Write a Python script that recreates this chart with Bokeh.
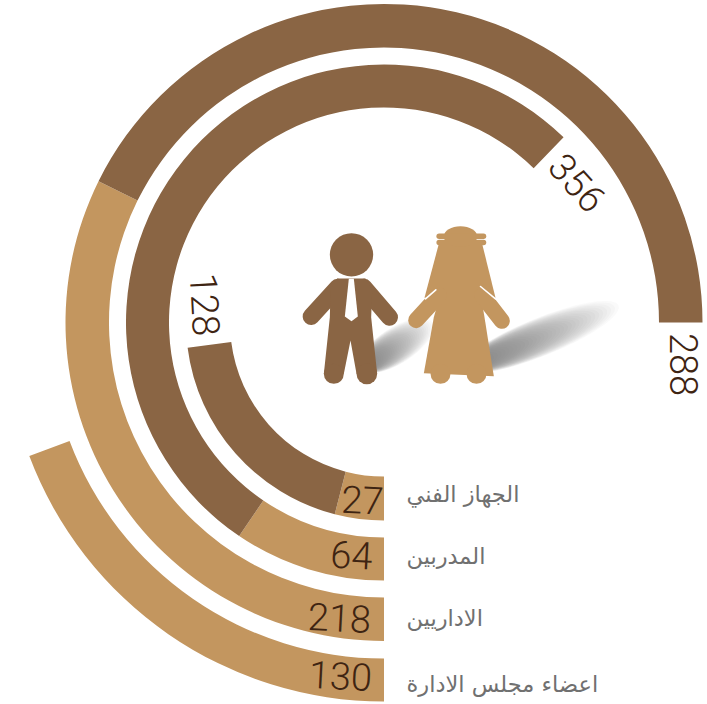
from math import radians, atan2, hypot
from bokeh.plotting import figure
from bokeh.models import Range1d
from bokeh.core.properties import value
from bokeh.embed import file_html
from bokeh.resources import INLINE

categories = ["الجهاز الفني", "المدربين", "الاداريين", "اعضاء  مجلس الادارة"]
tan_values = [27, 64, 218, 130]
brown_values = [128, 356, 288, 0]

W, H = 707, 704
TAN, BROWN, DARK, GREY = "#C3965F", "#8A6544", "#3E2412", "#707070"
DEG_PER_UNIT = 270 / 506
CX, CY = 383.5, 322
RINGS = [(154, 198), (215, 258), (275, 318.5), (336, 379)]

def Y(v):
    return H - v

p = figure(width=W, height=H, output_backend="svg", toolbar_location=None,
           x_range=Range1d(0, W), y_range=Range1d(0, H),
           min_border=0, outline_line_color=None, background_fill_color=None,
           margin=(0, 0, 0, 0))
p.axis.visible = False
p.grid.visible = False

def ang(units):
    return radians(-90 - units * DEG_PER_UNIT)

# shadows
def shadow(x0, y0, x1, y1, thick, n=40, alpha=0.03):
    L = hypot(x1 - x0, y1 - y0)
    a = atan2(y0 - y1, x1 - x0)
    for k in range(1, n + 1):
        t = k / n
        p.ellipse(x0 + (x1 - x0) * t / 2, Y(y0 + (y1 - y0) * t / 2), width=L * t, height=thick * (0.2 + 0.8 * t),
                  angle=a, fill_color="#62686F", fill_alpha=alpha, line_color=None)

shadow(360, 368, 432, 322, 36, alpha=0.03)
shadow(462, 368, 618, 305, 38, alpha=0.03)

for (r0, r1), t, b in zip(RINGS, tan_values, brown_values):
    p.annular_wedge(CX, Y(CY), r0, r1, ang(0), ang(t), direction="clock",
                    fill_color=TAN, line_color=None)
    if b:
        p.annular_wedge(CX, Y(CY), r0, r1, ang(t), ang(t + b), direction="clock",
                        fill_color=BROWN, line_color=None)

def num(txt, x, y, deg, size="38px"):
    p.text([x], [Y(y)], text=[txt], angle=radians(deg), text_align="center", text_baseline="middle",
           text_font=value("Roboto Light"), text_font_size=size, text_color=DARK, text_font_style="normal")

for v, x, y in zip(tan_values, [362, 351, 339, 340], [499, 554, 617, 675]):
    num(str(v), x, y, -3)
num(str(brown_values[0]), 205, 304, -87)
num(str(brown_values[1]), 577, 182, -48)
num(str(brown_values[2]), 683, 364, -90)

for c, y in zip(categories, [493, 555, 617, 683]):
    p.text([406], [Y(y)], text=[c], text_align="left", text_baseline="middle",
           text_font=value("DejaVu Sans"), text_font_size="22.5px", text_color=GREY)

def zx(v):
    return v / 3 + 280

def zy(v):
    return Y(v / 3 + 210)

def poly(pts, color):
    p.patch([zx(a) for a, _ in pts], [zy(b) for _, b in pts], fill_color=color, line_color=None)

def stroke(x0, y0, x1, y1, w, color):
    p.line([zx(x0), zx(x1)], [zy(y0), zy(y1)], line_width=w, line_color=color, line_cap="round")

def disc(x, y, r, color):
    p.circle(zx(x), zy(y), radius=r / 3, fill_color=color, line_color=None)

# man
disc(213, 133, 65, BROWN)
stroke(172, 230, 92, 318, 17, BROWN)
stroke(250, 230, 327, 320, 17, BROWN)
poly([(170, 204), (255, 204), (275, 240), (272, 320), (290, 490), (228, 490), (210, 390), (190, 490), (130, 490), (148, 320), (150, 240)], BROWN)
disc(160, 490, 30, BROWN)
disc(259, 490, 31, BROWN)
poly([(205, 205), (220, 205), (232, 318), (213, 332), (193, 318)], "#FFFFFF")

# woman
poly([(475, 100), (605, 100), (645, 262), (432, 262)], TAN)
p.ellipse(zx(540), zy(78), width=100 / 3, height=62 / 3, fill_color=TAN, line_color=None)
stroke(476, 77, 609, 77, 5.5, TAN)
stroke(476, 96, 609, 96, 5.5, TAN)
poly([(480, 250), (600, 250), (612, 320), (640, 497), (430, 488), (460, 320)], TAN)
stroke(475, 255, 407, 329, 16, TAN)
stroke(605, 255, 664, 331, 16, TAN)
disc(480, 490, 30, TAN)
disc(588, 490, 30, TAN)
stroke(466, 238, 435, 265, 1.6, "#FFFFFF")
stroke(600, 228, 645, 265, 1.6, "#FFFFFF")

open("out.html", "w").write(file_html(p, INLINE))
